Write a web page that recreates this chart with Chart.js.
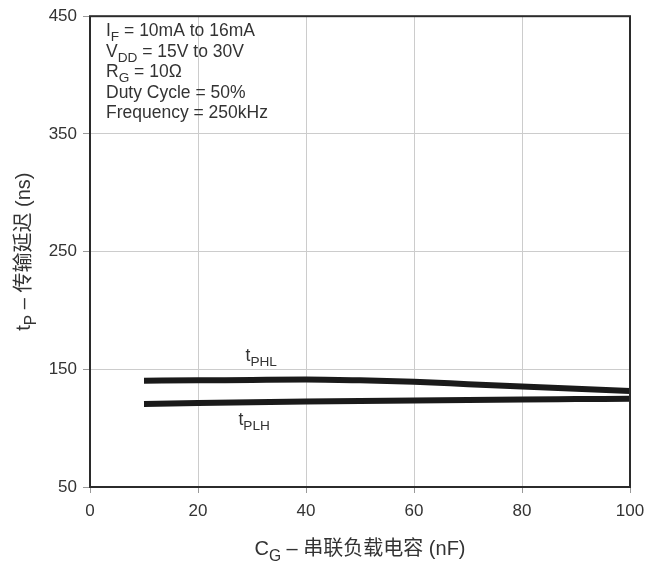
<!DOCTYPE html>
<html lang="zh-CN">
<head>
    <meta charset="UTF-8">
    <title>传输延迟 vs 串联负载电容</title>
    <script src="https://cdn.jsdelivr.net/npm/chart.js"></script>
    <style>
        body { margin: 0; background: #ffffff; }
        #wrap { width: 662px; height: 562px; }
    </style>
</head>
<body>
    <div id="wrap"><canvas id="chart" width="662" height="562"></canvas></div>
    <script>
        // dados
        const cargaNF = [10, 20, 30, 40, 50, 60, 70, 80, 90, 100];
        const tPHL = [140.3, 140.6, 141.0, 141.3, 140.6, 139.4, 137.4, 135.4, 133.4, 131.6];
        const tPLH = [120.6, 121.3, 122.0, 122.6, 123.1, 123.5, 124.0, 124.4, 124.7, 125.0];
        const xTicks = [0, 20, 40, 60, 80, 100];
        const yTicks = [50, 150, 250, 350, 450];

        // condições de teste (texto com subscrito)
        const condicoes = [
            [['I'], ['F', 1], [' = 10mA to 16mA']],
            [['V'], ['DD', 1], [' = 15V to 30V']],
            [['R'], ['G', 1], [' = 10Ω']],
            [['Duty Cycle = 50%']],
            [['Frequency = 250kHz']]
        ];
        const tituloX = [['C'], ['G', 1], [' – 串联负载电容 (nF)']];
        const tituloY = [['t'], ['P', 1], [' – 传输延迟 (ns)']];
        const rotuloPHL = [['t'], ['PHL', 1]];
        const rotuloPLH = [['t'], ['PLH', 1]];

        const FONTE = '"Liberation Sans", Arial, "Noto Sans CJK SC", sans-serif';
        const COR_TEXTO = '#333333';

        function larguraPartes(ctx, partes, tam) {
            let w = 0;
            partes.forEach(p => {
                ctx.font = (p[1] ? tam * 0.78 : tam) + 'px ' + FONTE;
                w += ctx.measureText(p[0]).width;
            });
            return w;
        }

        function desenhaPartes(ctx, partes, x, y, tam) {
            partes.forEach(p => {
                const sub = !!p[1];
                ctx.font = (sub ? tam * 0.78 : tam) + 'px ' + FONTE;
                ctx.fillText(p[0], x, sub ? y + tam * 0.3 : y);
                x += ctx.measureText(p[0]).width;
            });
        }

        const textos = {
            id: 'textos',
            afterDraw(chart) {
                const ctx = chart.ctx;
                const area = chart.chartArea;
                ctx.save();
                ctx.fillStyle = COR_TEXTO;
                ctx.textAlign = 'left';
                ctx.textBaseline = 'alphabetic';

                // moldura
                ctx.strokeStyle = '#2b2b2b';
                ctx.lineWidth = 2;
                ctx.strokeRect(area.left, area.top, area.right - area.left, area.bottom - area.top);

                // condições
                condicoes.forEach((linha, i) => {
                    desenhaPartes(ctx, linha, area.left + 16, area.top + 20 + i * 20.5, 17.5);
                });

                // rótulos das curvas
                const xs = chart.scales.x, ys = chart.scales.y;
                desenhaPartes(ctx, rotuloPHL, xs.getPixelForValue(28.8), ys.getPixelForValue(157), 17.5);
                desenhaPartes(ctx, rotuloPLH, xs.getPixelForValue(27.5), ys.getPixelForValue(102.5), 17.5);

                // título do eixo x
                const wx = larguraPartes(ctx, tituloX, 20);
                desenhaPartes(ctx, tituloX, (area.left + area.right) / 2 - wx / 2, 555, 20);

                // título do eixo y
                const wy = larguraPartes(ctx, tituloY, 20);
                ctx.translate(30, (area.top + area.bottom) / 2);
                ctx.rotate(-Math.PI / 2);
                desenhaPartes(ctx, tituloY, -wy / 2, 0, 20);
                ctx.restore();
            }
        };

        const serie = (vals) => cargaNF.map((x, i) => ({ x: x, y: vals[i] }));

        new Chart(document.getElementById('chart'), {
            type: 'line',
            data: {
                datasets: [
                    { label: 'tPHL', data: serie(tPHL), borderColor: '#1a1a1a', borderWidth: 6, pointRadius: 0, cubicInterpolationMode: 'monotone', borderCapStyle: 'butt', clip: false },
                    { label: 'tPLH', data: serie(tPLH), borderColor: '#1a1a1a', borderWidth: 6, pointRadius: 0, cubicInterpolationMode: 'monotone', borderCapStyle: 'butt', clip: false }
                ]
            },
            options: {
                responsive: false,
                animation: false,
                events: [],
                layout: { padding: { top: 16, right: 32, left: 0, bottom: 0 } },
                plugins: { legend: { display: false }, tooltip: { enabled: false } },
                scales: {
                    x: {
                        type: 'linear', min: 0, max: 100,
                        afterBuildTicks: s => { s.ticks = xTicks.map(v => ({ value: v })); },
                        afterFit: s => { s.height = 75; },
                        grid: { color: '#cccccc', lineWidth: 1, tickLength: 6, tickColor: '#999999' },
                        border: { display: false },
                        ticks: { color: COR_TEXTO, padding: 8, font: { family: FONTE, size: 17 }, maxRotation: 0 }
                    },
                    y: {
                        type: 'linear', min: 50, max: 450,
                        afterBuildTicks: s => { s.ticks = yTicks.map(v => ({ value: v })); },
                        afterFit: s => { s.width = 90; },
                        grid: { color: '#cccccc', lineWidth: 1, tickLength: 7, tickColor: '#999999' },
                        border: { display: false },
                        ticks: { color: COR_TEXTO, padding: 6, font: { family: FONTE, size: 17 } }
                    }
                }
            },
            plugins: [textos]
        });
    </script>
</body>
</html>
